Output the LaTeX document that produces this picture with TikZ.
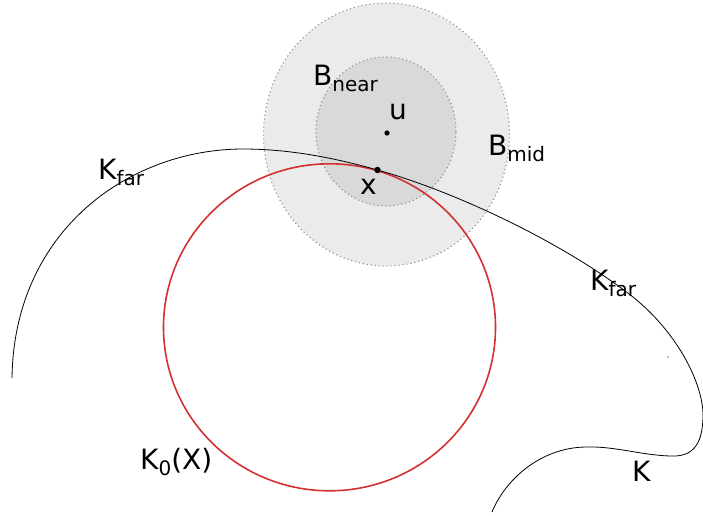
\documentclass[tikz,border=0pt]{standalone}
\usepackage{fontspec}
\setmainfont{DejaVu Sans}
\newcommand{\lowsub}[1]{\raisebox{-6pt}{\fontsize{20}{20}\selectfont #1}}
\definecolor{redc}{RGB}{212,48,48}
\definecolor{midfill}{RGB}{235,235,235}
\definecolor{nearfill}{RGB}{217,217,217}
\definecolor{dotgray}{RGB}{140,140,140}
\begin{document}
\begin{tikzpicture}[x=1pt,y=-1pt,
  lbl/.style={anchor=base west,inner sep=0pt,font=\fontsize{28}{30}\selectfont},
  ballline/.style={draw=dotgray,line width=1.1pt,dash pattern=on 1.1pt off 2.9pt},
  pt/.style={fill=black}]
\useasboundingbox (0,0) rectangle (703,515);
\clip (0,0) rectangle (703,515);
% balls
\fill[midfill] (386.5,134.5) ellipse [x radius=123pt, y radius=131.5pt];
\draw[ballline] (386.5,134.5) ellipse [x radius=123pt, y radius=131.5pt];
\fill[nearfill] (386,131.5) ellipse [x radius=70pt, y radius=74.5pt];
\draw[ballline] (386,131.5) ellipse [x radius=70pt, y radius=74.5pt];
% K0(X)
\draw[redc,line width=1.6pt] (329.5,327.3) ellipse [x radius=166pt, y radius=163.5pt];
% points
\coordinate (u) at (387,133);
\coordinate (x) at (377.5,170);
% K curve
\draw[black,line width=0.8pt]
  (12,378) .. controls (14,230) and (130,149) .. (243,149)
  .. controls (290,149) and (335,158) .. (x)
  .. controls (450,190) and (560,240) .. (633,297)
  .. controls (679,334) and (703,385) .. (703,415)
  .. controls (703,448) and (690,457) .. (670,456)
  .. controls (640,455) and (615,446) .. (585,447)
  .. controls (540,448) and (505,480) .. (492,512);
\fill[pt] (u) circle [radius=2.6pt];
\fill[pt] (x) circle [radius=3.2pt];
\fill[pt] (668,357) circle [radius=0.7pt];
% labels
\node[lbl] (Bnear) at (313,85) {B\lowsub{near}};
\node[lbl] (ulab) at (389,119) {u};
\node[lbl] (Bmid) at (488,155) {B\lowsub{mid}};
\node[lbl] (xlab) at (360,194) {x};
\node[lbl] (Kfar1) at (98,179) {K\lowsub{far}};
\node[lbl] (Kfar2) at (590,290) {K\lowsub{far}};
\node[lbl] (K0X) at (140,469) {K\lowsub{0}(X)};
\node[lbl] (Klab) at (632,481) {K};
\end{tikzpicture}
\end{document}
